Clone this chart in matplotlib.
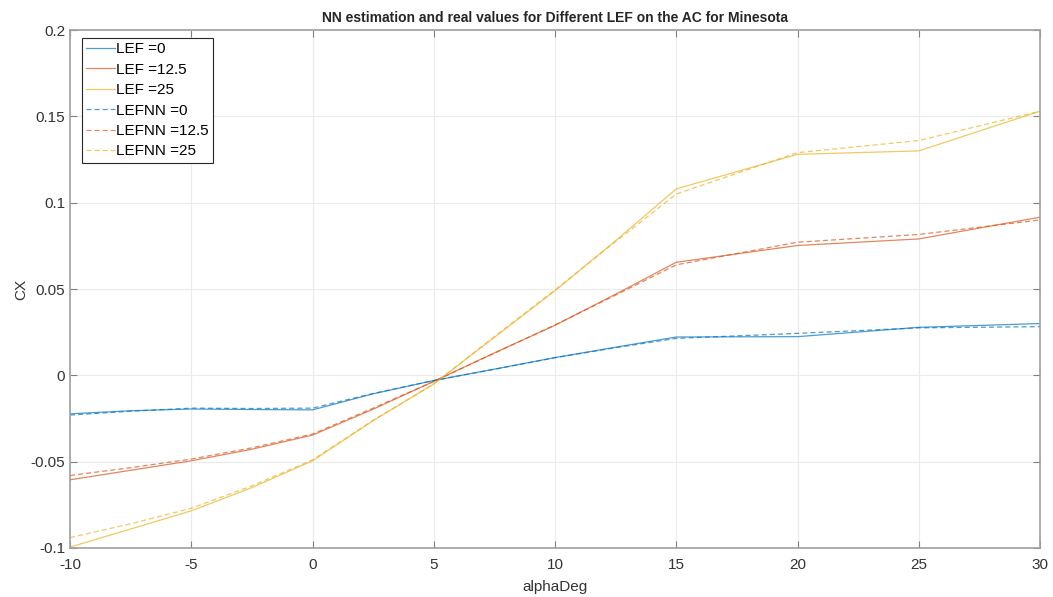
import matplotlib.pyplot as plt

plt.rcParams['font.family'] = ['Liberation Sans', 'DejaVu Sans']
plt.rcParams['axes.unicode_minus'] = False

# alpha grid (deg)
alpha = [-10, -7.5, -5, -2.5, 0, 2.5, 5, 7.5, 10, 12.5, 15, 20, 25, 30]

# real values
cx_lef0 = [-0.0223, -0.0205, -0.0195, -0.0198, -0.0200, -0.0107, -0.0030, 0.0036,
           0.0103, 0.0163, 0.0222, 0.0224, 0.0278, 0.0300]
cx_lef12 = [-0.0605, -0.0550, -0.0495, -0.0428, -0.0346, -0.0196, -0.0035, 0.0130,
            0.0290, 0.0470, 0.0655, 0.0752, 0.0790, 0.0916]
cx_lef25 = [-0.0995, -0.0890, -0.0785, -0.0650, -0.0495, -0.0263, -0.0050, 0.0220,
            0.0490, 0.0780, 0.1080, 0.1280, 0.1300, 0.1530]

# NN estimates
nn_lef0 = [-0.0230, -0.0208, -0.0190, -0.0192, -0.0190, -0.0105, -0.0030, 0.0035,
           0.0102, 0.0160, 0.0214, 0.0243, 0.0275, 0.0282]
nn_lef12 = [-0.0580, -0.0535, -0.0485, -0.0420, -0.0340, -0.0190, -0.0035, 0.0128,
            0.0292, 0.0465, 0.0640, 0.0771, 0.0816, 0.0900]
nn_lef25 = [-0.0940, -0.0860, -0.0770, -0.0640, -0.0490, -0.0260, -0.0050, 0.0225,
            0.0495, 0.0775, 0.1050, 0.1290, 0.1360, 0.1530]

c_blue = '#0072BD'
c_red = '#D95319'
c_yel = '#EDB120'

fig = plt.figure(figsize=(10.53, 5.97), dpi=100)
ax = fig.add_axes([0.0665, 0.0821, 0.9212, 0.8676])

lw = 0.9
a = 0.7
ax.plot(alpha, cx_lef0, color=c_blue, lw=lw, alpha=a, label='LEF =0')
ax.plot(alpha, cx_lef12, color=c_red, lw=lw, alpha=a, label='LEF =12.5')
ax.plot(alpha, cx_lef25, color=c_yel, lw=lw, alpha=a, label='LEF =25')
ax.plot(alpha, nn_lef0, color=c_blue, lw=lw, alpha=a, ls=(0, (4, 2.5)), label='LEFNN =0')
ax.plot(alpha, nn_lef12, color=c_red, lw=lw, alpha=a, ls=(0, (4, 2.5)), label='LEFNN =12.5')
ax.plot(alpha, nn_lef25, color=c_yel, lw=lw, alpha=a, ls=(0, (4, 2.5)), label='LEFNN =25')

ax.set_xlim(-10, 30)
ax.set_ylim(-0.1, 0.2)
ax.set_xticks(range(-10, 31, 5))
ax.set_yticks([-0.1, -0.05, 0, 0.05, 0.1, 0.15, 0.2])
ax.set_yticklabels(['-0.1', '-0.05', '0', '0.05', '0.1', '0.15', '0.2'])
ax.grid(True, color='#ebebeb', lw=0.8)
ax.set_axisbelow(True)
ax.tick_params(direction='in', length=5, color='#808080', labelcolor='#333333',
               labelsize=11, top=True, right=True)
ax.tick_params(axis='x', pad=7)
for s in ax.spines.values():
    s.set_color('#a0a0a0')
    s.set_linewidth(1.2)

ax.set_title('NN estimation and real values for Different LEF on the AC for Minesota',
             fontsize=10, fontweight='bold', color='#262626', pad=6)
ax.set_xlabel('alphaDeg', fontsize=11, color='#333333', labelpad=6)
ax.set_ylabel('CX', fontsize=11, color='#333333', labelpad=2)

leg = ax.legend(loc='upper left', fontsize=11, handlelength=1.9, handletextpad=0.05,
                labelspacing=0.42, borderpad=0.3, fancybox=False, framealpha=1,
                bbox_to_anchor=(0.012, 0.985), borderaxespad=0)
leg.get_frame().set_edgecolor('#262626')
leg.get_frame().set_linewidth(0.8)

fig.savefig('out.png', dpi=100)
